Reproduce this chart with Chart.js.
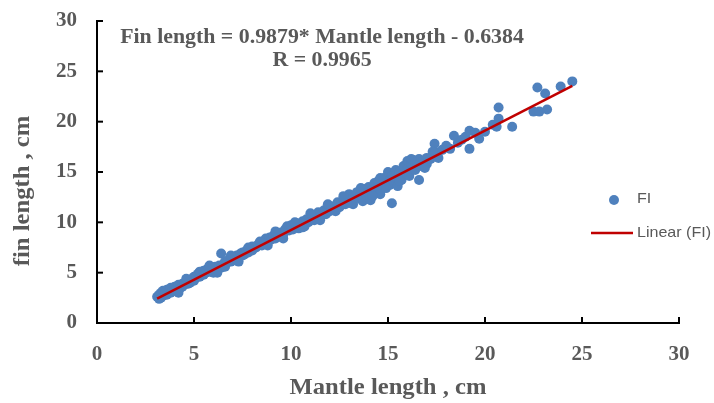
<!DOCTYPE html>
<html>
<head>
<meta charset="utf-8">
<script src="https://cdn.jsdelivr.net/npm/chart.js@4"></script>
<style>
  html, body { margin: 0; padding: 0; background: #fff; }
  #wrap { width: 714px; height: 403px; }
</style>
</head>
<body>
<div id="wrap"><canvas id="myChart" width="714" height="403"></canvas></div>
<script>
// Mantle length (x) and fin length (y), cm
const mantleLength = [
  3.1, 3.2, 3.2, 3.3, 3.3, 3.4, 3.4, 3.5, 3.6, 3.6, 3.7, 3.8, 3.8, 3.9, 4.0, 4.0, 4.1, 4.2, 4.3, 4.4,
  4.4, 4.5, 4.6, 4.7, 4.8, 4.8, 4.9, 5.0, 5.0,
  5.1, 5.2, 5.3, 5.4, 5.5, 5.5, 5.6, 5.7, 5.8, 5.9, 6.0, 6.0, 6.1, 6.2, 6.3, 6.4, 6.4, 6.5, 6.6, 6.6,
  6.7, 6.8, 6.9, 7.0, 7.0, 7.1, 7.2, 7.3, 7.4, 7.5, 7.5, 7.6, 7.7, 7.8, 7.9, 8.0, 8.0,
  8.2, 8.3, 8.5, 8.6, 8.7, 8.8, 8.9, 9.0, 9.1, 9.2, 9.3, 9.4, 9.5, 9.6, 9.7, 9.8, 9.9, 10.0, 10.1,
  10.2, 10.3, 10.4, 10.5, 10.6, 10.7, 10.8, 10.9, 11.0, 11.1, 11.2, 11.3, 11.4, 11.5, 11.6, 11.7,
  11.8, 11.9, 12.0, 12.0,
  12.2, 12.3, 12.4, 12.5, 12.6, 12.7, 12.8, 12.9, 13.0, 13.0, 13.1, 13.2, 13.3, 13.4, 13.5, 13.6,
  13.7, 13.8, 13.9, 14.0, 14.0, 14.1, 14.2, 14.3, 14.4, 14.5, 14.5, 14.6, 14.7, 14.8, 14.9, 15.0,
  15.0, 15.1, 15.2, 15.2, 15.3, 15.4, 15.5, 15.5, 15.6, 15.7, 15.8, 15.9, 16.0, 16.0, 16.1, 16.2,
  16.3, 16.4, 16.5, 16.6, 16.6, 16.7, 16.8, 17.0, 17.0,
  17.2, 17.4, 17.5, 17.6, 17.8, 18.0, 18.2, 18.4, 18.6, 18.8, 19.0, 19.2, 19.2, 19.5, 19.7, 20.0,
  20.4, 20.6, 20.7, 20.7, 21.4, 22.5, 22.8, 23.2, 22.7, 23.1, 23.9, 24.5,
  4.2, 4.6, 5.3, 5.8, 6.2, 6.9, 7.3, 7.8, 8.4, 8.8, 9.2, 9.6, 10.2, 10.6, 11.0, 11.5, 11.9, 12.3,
  12.7, 13.1, 13.6, 14.2, 14.6, 15.6, 16.2, 16.9, 17.3
];
const finLength = [
  2.6, 2.4, 2.8, 2.5, 3.0, 2.7, 3.2, 2.9, 3.3, 2.8, 3.1, 3.5, 3.0, 3.3, 3.6, 3.2, 3.4, 3.8, 3.5, 3.9,
  3.6, 3.8, 4.1, 3.9, 4.3, 4.0, 4.4, 4.2, 4.6,
  4.5, 4.9, 4.6, 5.0, 4.8, 5.2, 5.0, 5.4, 5.1, 5.5, 5.3, 5.0, 5.6, 5.4, 5.7, 5.5, 6.9, 5.8, 6.1, 5.6,
  6.0, 6.3, 6.1, 6.5, 6.2, 6.4, 6.7, 6.5, 6.9, 6.7, 7.0, 6.8, 7.2, 7.0, 7.4, 7.2, 7.6,
  7.5, 7.8, 7.7, 8.1, 8.4, 8.0, 8.5, 8.3, 8.7, 8.4, 8.9, 8.6, 9.0, 8.8, 9.3, 9.6, 9.2, 9.7, 9.3,
  9.6, 9.9, 9.4, 9.8, 10.1, 9.6, 10.3, 10.0, 10.4, 10.7, 10.2, 10.6, 11.0, 10.5, 10.9, 11.2,
  10.8, 11.4, 11.1, 11.6,
  11.2, 11.7, 12.0, 11.5, 11.9, 12.3, 11.8, 12.5, 12.0, 12.8, 12.3, 11.8, 12.6, 13.0, 12.4, 12.9,
  12.1, 13.3, 12.7, 13.5, 12.9, 12.2, 13.3, 13.9, 13.0, 14.1, 13.5, 12.8, 13.8, 14.4, 13.4, 14.2,
  15.0, 13.7, 11.9, 14.6, 14.0, 15.2, 14.4, 13.6, 15.0, 14.2, 15.6, 14.8, 16.1, 15.3, 14.6, 15.8,
  16.2, 15.2, 15.9, 14.2, 16.3, 15.6, 16.1, 15.8, 16.4,
  16.3, 17.8, 16.9, 16.4, 17.2, 17.6, 17.3, 18.6, 17.9, 18.2, 18.5, 19.1, 17.3, 18.9, 18.3, 19.0,
  19.7, 19.5, 20.3, 21.4, 19.5, 21.0, 21.0, 21.2, 23.4, 22.8, 23.5, 24.0,
  3.0, 4.4, 5.1, 5.7, 5.0, 6.7, 6.1, 7.5, 8.1, 7.7, 9.1, 8.4, 10.0, 9.5, 10.9, 10.2, 11.8, 11.1,
  12.6, 11.9, 13.4, 12.6, 14.4, 14.1, 16.3, 15.4, 17.0
];
const axisTicks = [0, 5, 10, 15, 20, 25, 30];
const slope = 0.9879;
const intercept = -0.6384;
const rValue = 0.9965;

const points = mantleLength.map((x, i) => ({ x: x, y: finLength[i] }));
const xMin = Math.min(...mantleLength);
const xMax = Math.max(...mantleLength);
const trend = [xMin, xMax].map(x => ({ x: x, y: slope * x + intercept }));

const grey = '#595959';
const blue = '#4f81bd';
const serif = '"Liberation Serif", "Times New Roman", serif';

// text a little wider than the font gives, like the reference
function wideText(c, text, x, y, sx) {
  c.save();
  c.translate(x, y);
  c.scale(sx, 1);
  c.fillText(text, 0, 0);
  c.restore();
}

// Excel style extras: inward ticks, axis titles, equation and legend
const decor = {
  id: 'decor',
  afterDraw(chart) {
    const c = chart.ctx;
    const xs = chart.scales.x, ys = chart.scales.y;
    c.save();
    c.strokeStyle = '#000';
    c.lineWidth = 2;
    axisTicks.forEach(v => {
      const px = xs.getPixelForValue(v);
      c.beginPath(); c.moveTo(px, ys.bottom); c.lineTo(px, ys.bottom - 6); c.stroke();
      const py = ys.getPixelForValue(v);
      c.beginPath(); c.moveTo(xs.left, py); c.lineTo(xs.left + 6, py); c.stroke();
    });

    c.fillStyle = grey;
    c.textAlign = 'center';
    c.textBaseline = 'middle';
    c.font = 'bold 23px ' + serif;
    wideText(c, 'Mantle length , cm', (xs.left + xs.right) / 2, 388, 1.07);
    c.save();
    c.translate(23, 191);
    c.rotate(-Math.PI / 2);
    wideText(c, 'fin length , cm', 0, 0, 1.07);
    c.restore();

    c.font = 'bold 21px ' + serif;
    wideText(c, 'Fin length = ' + slope + '* Mantle length - ' + Math.abs(intercept), 322, 38, 1.04);
    wideText(c, 'R = ' + rValue, 322, 61, 1.04);

    // legend
    c.beginPath();
    c.arc(614, 200, 5, 0, Math.PI * 2);
    c.fillStyle = blue;
    c.fill();
    c.strokeStyle = '#c00000';
    c.lineWidth = 2.5;
    c.beginPath(); c.moveTo(591, 233); c.lineTo(633, 233); c.stroke();
    c.fillStyle = grey;
    c.textAlign = 'left';
    c.font = '15px "Liberation Sans", Arial, sans-serif';
    wideText(c, 'FI', 637, 199, 1.07);
    wideText(c, 'Linear (FI)', 637, 233, 1.07);
    c.restore();
  }
};

const ctx = document.getElementById('myChart').getContext('2d');
const myChart = new Chart(ctx, {
  type: 'scatter',
  data: {
    datasets: [
      {
        label: 'FI',
        data: points,
        backgroundColor: blue,
        borderColor: blue,
        pointRadius: 5,
        pointBorderWidth: 0,
        order: 1
      },
      {
        type: 'line',
        label: 'Linear (FI)',
        data: trend,
        borderColor: '#c00000',
        borderWidth: 2.5,
        pointRadius: 0,
        fill: false,
        order: 0
      }
    ]
  },
  options: {
    responsive: false,
    animation: false,
    layout: { padding: { top: 21, right: 35, left: 0, bottom: 0 } },
    plugins: {
      legend: { display: false },
      tooltip: { enabled: false }
    },
    scales: {
      x: {
        type: 'linear',
        min: 0, max: 30,
        afterFit(s) { s.height = 80; s.paddingLeft = 0; s.paddingRight = 0; },
        afterBuildTicks(s) { s.ticks = axisTicks.map(v => ({ value: v })); },
        grid: { display: false, drawTicks: false },
        border: { color: '#000', width: 2 },
        ticks: { padding: 19, color: grey, font: { family: serif, size: 21, weight: 'bold' } }
      },
      y: {
        min: 0, max: 30,
        afterFit(s) { s.width = 97; s.paddingTop = 0; s.paddingBottom = 0; },
        afterBuildTicks(s) { s.ticks = axisTicks.map(v => ({ value: v })); },
        grid: { display: false, drawTicks: false },
        border: { color: '#000', width: 2 },
        ticks: { padding: 20, color: grey, font: { family: serif, size: 21, weight: 'bold' } }
      }
    }
  },
  plugins: [decor]
});
</script>
</body>
</html>
